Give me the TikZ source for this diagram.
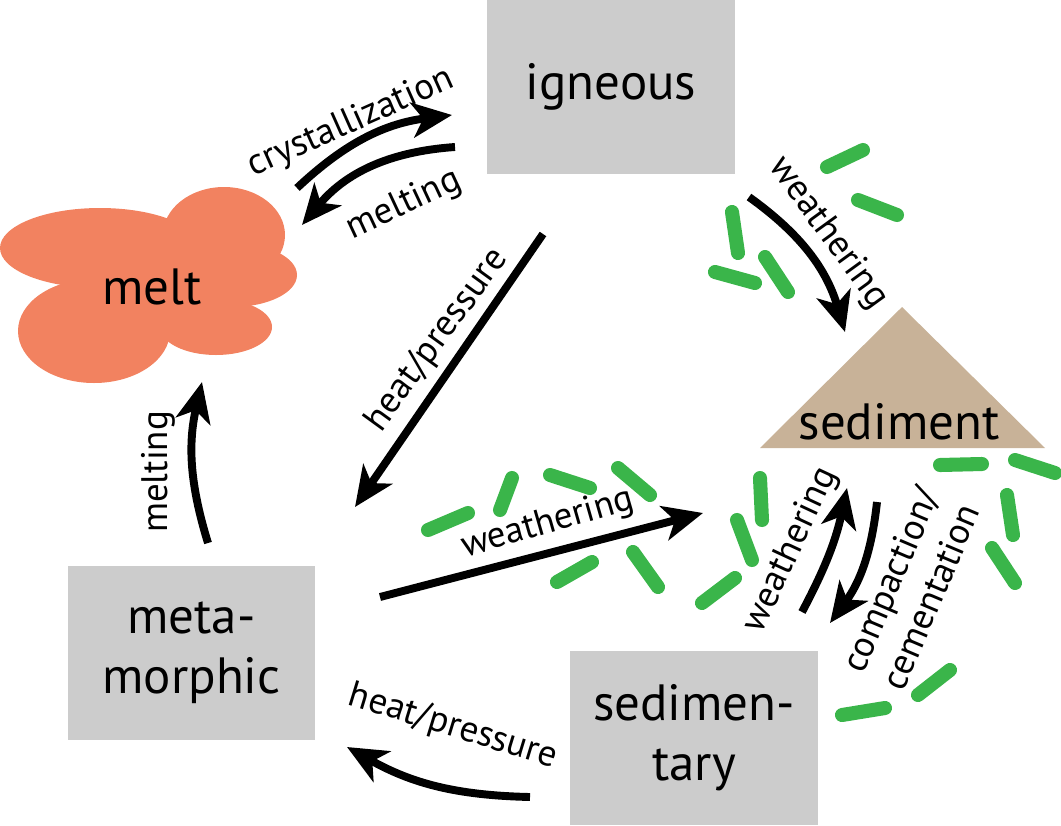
\documentclass[tikz,border=0pt]{standalone}
\usepackage{fontspec}
\setmainfont{PT Sans}
\usetikzlibrary{arrows.meta,positioning}
\definecolor{boxgray}{HTML}{CCCCCC}
\definecolor{meltcol}{HTML}{F28260}
\definecolor{sedcol}{HTML}{C8B298}
\definecolor{grain}{HTML}{3AB54A}
\tikzstyle{rock} = [fill=boxgray, minimum width=4.96cm, minimum height=3.48cm, align=center, inner sep=0pt, font=\fontsize{29}{34}\selectfont]
\tikzstyle{lbl} = [inner sep=0pt, font=\fontsize{21}{25}\selectfont]
\tikzstyle{arrow} = [line width=4.5pt, -{Stealth[length=0.8cm, width=0.7cm, inset=0.22cm]}]
\tikzstyle{rod} = [line width=8pt, line cap=round, draw=grain]

\begin{document}
\begin{tikzpicture}[x=0.02cm, y=-0.02cm]
\useasboundingbox (0,0) rectangle (1061,825);
% melt blob
\fill [meltcol] (100,248) ellipse (100 and 40);
\fill [meltcol] (224,235) ellipse (61 and 48);
\fill [meltcol] (232,275) ellipse (65 and 32);
\fill [meltcol] (216,327) ellipse (56 and 28);
\fill [meltcol] (94,331) ellipse (76 and 52);
\fill [meltcol] (160,300) ellipse (60 and 40);
\node (melt) [font=\fontsize{29}{34}\selectfont] at (152,287) {melt};
% sediment pile
\fill [sedcol] (760,448) -- (902,307) -- (1045,448) -- cycle;
\node (sed) [font=\fontsize{29}{34}\selectfont] at (899,422) {sediment};
% rock boxes
\node (ign) [rock] at (611,87) {igneous};
\node (meta) [rock] at (191.5,653) {meta-\\morphic};
\node (sedr) [rock] at (694,738) {sedimen-\\tary};
% grains
\draw [rod] (827,167) -- (863,150);
\draw [rod] (858,200) -- (897,215);
\draw [rod] (732,212) -- (738,253);
\draw [rod] (715,272) -- (755,283);
\draw [rod] (765,257) -- (788,292);
\draw [rod] (760,478) -- (762,520);
\draw [rod] (737,520) -- (752,560);
\draw [rod] (735,578) -- (702,603);
\draw [rod] (940,465) -- (982,464);
\draw [rod] (1015,460) -- (1055,473);
\draw [rod] (1007,495) -- (1013,535);
\draw [rod] (992,548) -- (1015,583);
\draw [rod] (950,670) -- (918,695);
\draw [rod] (842,715) -- (885,708);
\draw [rod] (428,530) -- (468,513);
\draw [rod] (500,510) -- (512,478);
\draw [rod] (550,475) -- (590,488);
\draw [rod] (618,468) -- (650,495);
\draw [rod] (557,582) -- (592,562);
\draw [rod] (633,552) -- (658,587);
% arrow ends
\coordinate (cr1) at (297,188); \coordinate (cr2) at (452,115);
\coordinate (mt1) at (455,147); \coordinate (mt2) at (302,225);
\coordinate (hp1) at (543,234); \coordinate (hp2) at (355,507);
\coordinate (wi1) at (749,197); \coordinate (wi2) at (845,332);
\coordinate (wm1) at (380,597); \coordinate (wm2) at (703,513);
\coordinate (ml1) at (208,543); \coordinate (ml2) at (202,382);
\coordinate (ws1) at (802,612); \coordinate (ws2) at (847,488);
\coordinate (cc1) at (877,502); \coordinate (cc2) at (830,623);
\coordinate (hs1) at (530,797); \coordinate (hs2) at (347,747);
\draw [arrow] (cr1) to [bend left=18] (cr2);
\draw [arrow] (mt1) to [bend right=23] (mt2);
\draw [arrow] (hp1) -- (hp2);
\draw [arrow] (wi1) to [bend left=19] (wi2);
\draw [arrow] (wm1) -- (wm2);
\draw [arrow] (ml1) to [bend left=15] (ml2);
\draw [arrow] (ws1) to [bend right=8] (ws2);
\draw [arrow] (cc1) to [bend left=15] (cc2);
\draw [arrow] (hs1) to [bend left=14] (hs2);
% labels
\node (l-cr) [lbl, rotate=24] at (351,123) {crystallization};
\node (l-mt) [lbl, rotate=25] at (404,205) {melting};
\node (l-hp) [lbl, rotate=54] at (437,340) {heat/pressure};
\node (l-wi) [lbl, rotate=-54] at (828,233) {weathering};
\node (l-wm) [lbl, rotate=16] at (548,524) {weathering};
\node (l-ml) [lbl, rotate=90] at (158,472) {melting};
\node (l-ws) [lbl, rotate=65] at (791,550) {weathering};
\node (l-cc) [lbl, rotate=67, align=center] at (910,588) {compaction/\\cementation};
\node (l-hs) [lbl, rotate=-17] at (453,727) {heat/pressure};
\end{tikzpicture}
\end{document}
